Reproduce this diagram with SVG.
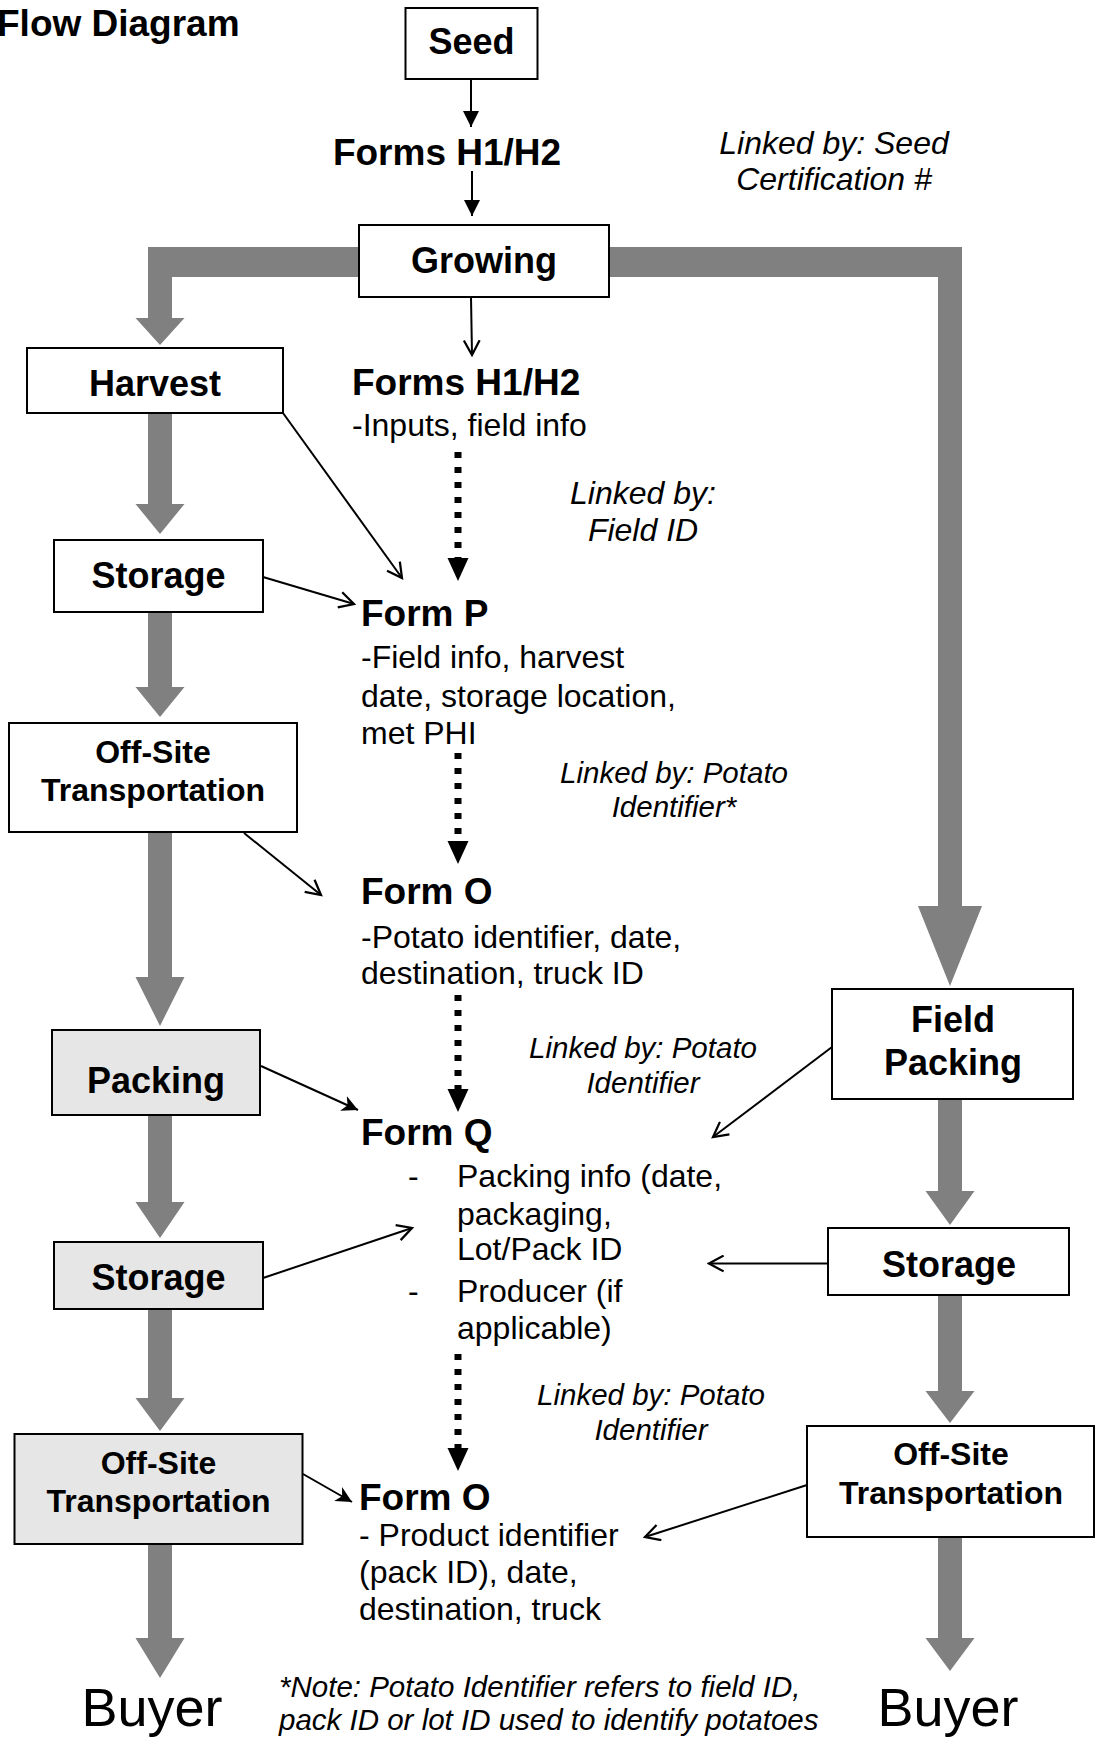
<svg xmlns="http://www.w3.org/2000/svg" width="1095" height="1737" viewBox="0 0 1095 1737">
<style>
text{font-family:"Liberation Sans",Arial,sans-serif;fill:#000}
.box{fill:#fff;stroke:#000;stroke-width:2}
.boxg{fill:#e6e6e6;stroke:#000;stroke-width:2}
.lbl{font-weight:bold;font-size:36px;text-anchor:middle}
.lbl2{font-weight:bold;font-size:32px;text-anchor:middle}
.form{font-weight:bold;font-size:37px}
.body{font-size:32px}
.link{font-style:italic;font-size:32px;text-anchor:middle}
.link2{font-style:italic;font-size:29.5px;text-anchor:middle}
.note{font-style:italic;font-size:29.5px}
.buyer{font-size:54px;text-anchor:middle}
.gray{fill:#808080}
.thinF{stroke:#000;stroke-width:2;fill:none;marker-end:url(#fill)}
.thinO{stroke:#000;stroke-width:2;fill:none;marker-end:url(#open)}
.dot{stroke:#000;stroke-width:7;stroke-dasharray:6 9;fill:none}
</style>
<defs>
<marker id="fill" markerUnits="userSpaceOnUse" markerWidth="16" markerHeight="16" viewBox="0 0 14 14" refX="14" refY="7" orient="auto">
<path d="M0,0 L14,7 L0,14 L4,7 Z" fill="#000"/>
</marker>
<marker id="fillT" markerUnits="userSpaceOnUse" markerWidth="16" markerHeight="16" viewBox="0 0 14 14" refX="14" refY="7" orient="auto">
<path d="M0,0 L14,7 L0,14 Z" fill="#000"/>
</marker>
<marker id="open" markerUnits="userSpaceOnUse" markerWidth="18" markerHeight="18" viewBox="0 0 16 16" refX="14" refY="8" orient="auto">
<path d="M1,1 L14,8 L1,15" fill="none" stroke="#000" stroke-width="2"/>
</marker>
</defs>

<text id="title" x="-3" y="36" style="font-weight:bold;font-size:37px">Flow Diagram</text>

<g id="connectors">
<!-- gray flow arrows -->
<path class="gray" d="M148,247 L359,247 L359,277 L172,277 L172,318 L184.5,318 L160,345 L135.5,318 L148,318 Z"/>
<path class="gray" d="M608,247 L962,247 L962,906 L982,906 L950,986 L918,906 L938,906 L938,277 L608,277 Z"/>
<path class="gray" d="M148,413 L172,413 L172,504 L184.5,504 L160,534 L135.5,504 L148,504 Z"/>
<path class="gray" d="M148,612 L172,612 L172,687 L184.5,687 L160,717 L135.5,687 L148,687 Z"/>
<path class="gray" d="M148,832 L172,832 L172,977 L184.5,977 L160,1026 L135.5,977 L148,977 Z"/>
<path class="gray" d="M148,1115 L172,1115 L172,1202 L184.5,1202 L160,1238 L135.5,1202 L148,1202 Z"/>
<path class="gray" d="M148,1309 L172,1309 L172,1398 L184.5,1398 L160,1431 L135.5,1398 L148,1398 Z"/>
<path class="gray" d="M148,1544 L172,1544 L172,1638 L184.5,1638 L160,1678 L135.5,1638 L148,1638 Z"/>
<path class="gray" d="M938,1099 L962,1099 L962,1191 L974.5,1191 L950,1225 L925.5,1191 L938,1191 Z"/>
<path class="gray" d="M938,1295 L962,1295 L962,1391 L974.5,1391 L950,1423 L925.5,1391 L938,1391 Z"/>
<path class="gray" d="M938,1537 L962,1537 L962,1638 L974.5,1638 L950,1671 L925.5,1638 L938,1638 Z"/>
<!-- thin arrows -->
<line x1="471" y1="79" x2="471" y2="127" stroke="#000" stroke-width="2" marker-end="url(#fillT)"/>
<line x1="472" y1="171" x2="472" y2="216" stroke="#000" stroke-width="2" marker-end="url(#fillT)"/>
<line class="thinO" x1="471" y1="297" x2="472" y2="355"/>
<line class="thinO" x1="283" y1="413" x2="402" y2="578"/>
<line class="thinO" x1="263" y1="577" x2="354" y2="604"/>
<line class="thinO" x1="244" y1="833" x2="321" y2="895"/>
<line class="thinF" x1="261" y1="1066" x2="358" y2="1110"/>
<line class="thinO" x1="263" y1="1278" x2="412" y2="1228"/>
<line class="thinO" x1="832" y1="1047" x2="713" y2="1137"/>
<line class="thinO" x1="828" y1="1263.5" x2="709" y2="1263.5"/>
<line class="thinF" x1="303" y1="1474" x2="352" y2="1502"/>
<line class="thinO" x1="807" y1="1485" x2="645" y2="1537"/>
<!-- dotted arrows -->
<line class="dot" x1="458" y1="452" x2="458" y2="558"/>
<path d="M447.5,558 L468.5,558 L458,581 Z"/>
<line class="dot" x1="458" y1="753" x2="458" y2="841"/>
<path d="M447.5,841 L468.5,841 L458,864 Z"/>
<line class="dot" x1="458" y1="995" x2="458" y2="1089"/>
<path d="M447.5,1089 L468.5,1089 L458,1112 Z"/>
<line class="dot" x1="458" y1="1354" x2="458" y2="1448"/>
<path d="M447.5,1448 L468.5,1448 L458,1471 Z"/>
</g>

<g id="seed"><rect class="box" x="405.5" y="8" width="132" height="71"/><text class="lbl" x="471.5" y="54">Seed</text></g>
<g id="formsH1H2a"><text class="form" x="447" y="165" text-anchor="middle">Forms H1/H2</text></g>
<g id="link-seed"><text class="link" x="834" y="154">Linked by: Seed</text><text class="link" x="834" y="190">Certification #</text></g>
<g id="growing"><rect class="box" x="359" y="225" width="250" height="72"/><text class="lbl" x="484" y="273">Growing</text></g>

<g id="harvest"><rect class="box" x="27" y="348" width="256" height="65"/><text class="lbl" x="155" y="396">Harvest</text></g>
<g id="storage1"><rect class="box" x="54" y="540" width="209" height="72"/><text class="lbl" x="158.5" y="588">Storage</text></g>
<g id="offsite1"><rect class="box" x="9" y="723" width="288" height="109"/><text class="lbl2" x="153" y="763">Off-Site</text><text class="lbl2" x="153" y="801">Transportation</text></g>
<g id="packing"><rect class="boxg" x="52" y="1030" width="208" height="85"/><text class="lbl" x="156" y="1093">Packing</text></g>
<g id="storage2"><rect class="boxg" x="54" y="1242" width="209" height="67"/><text class="lbl" x="158.5" y="1290">Storage</text></g>
<g id="offsite2"><rect class="boxg" x="14.5" y="1434" width="288" height="110"/><text class="lbl2" x="158.5" y="1474">Off-Site</text><text class="lbl2" x="158.5" y="1512">Transportation</text></g>
<g id="buyer1"><text class="buyer" x="152" y="1726">Buyer</text></g>

<g id="formsH1H2b"><text class="form" x="352" y="395">Forms H1/H2</text><text class="body" x="352" y="436">-Inputs, field info</text></g>
<g id="link-field"><text class="link" x="643" y="504">Linked by:</text><text class="link" x="643" y="541">Field ID</text></g>
<g id="formP"><text class="form" x="361" y="626">Form P</text><text class="body" x="361" y="668">-Field info, harvest</text><text class="body" x="361" y="707">date, storage location,</text><text class="body" x="361" y="744">met PHI</text></g>
<g id="link-potato1"><text class="link2" x="674" y="783">Linked by: Potato</text><text class="link2" x="674" y="817">Identifier*</text></g>
<g id="formO1"><text class="form" x="361" y="904">Form O</text><text class="body" x="361" y="948">-Potato identifier, date,</text><text class="body" x="361" y="984">destination, truck ID</text></g>
<g id="link-potato2"><text class="link2" x="643" y="1058">Linked by: Potato</text><text class="link2" x="643" y="1093">Identifier</text></g>
<g id="formQ"><text class="form" x="361" y="1145">Form Q</text>
<text class="body" x="408" y="1187">-</text><text class="body" x="457" y="1187">Packing info (date,</text>
<text class="body" x="457" y="1225">packaging,</text>
<text class="body" x="457" y="1260">Lot/Pack ID</text>
<text class="body" x="408" y="1302">-</text><text class="body" x="457" y="1302">Producer (if</text>
<text class="body" x="457" y="1339">applicable)</text></g>
<g id="link-potato3"><text class="link2" x="651" y="1405">Linked by: Potato</text><text class="link2" x="651" y="1440">Identifier</text></g>
<g id="formO2"><text class="form" x="359" y="1510">Form O</text><text class="body" x="359" y="1546">- Product identifier</text><text class="body" x="359" y="1583">(pack ID), date,</text><text class="body" x="359" y="1620">destination, truck</text></g>

<g id="fieldpacking"><rect class="box" x="832" y="989" width="241" height="110"/><text class="lbl" x="953" y="1032">Field</text><text class="lbl" x="953" y="1075">Packing</text></g>
<g id="storage3"><rect class="box" x="828" y="1228" width="241" height="67"/><text class="lbl" x="949" y="1277">Storage</text></g>
<g id="offsite3"><rect class="box" x="807" y="1426" width="287" height="111"/><text class="lbl2" x="951" y="1465">Off-Site</text><text class="lbl2" x="951" y="1504">Transportation</text></g>
<g id="buyer2"><text class="buyer" x="948" y="1726">Buyer</text></g>

<g id="note"><text class="note" x="279" y="1697">*Note: Potato Identifier refers to field ID,</text><text class="note" x="279" y="1730">pack ID or lot ID used to identify potatoes</text></g>
</svg>
